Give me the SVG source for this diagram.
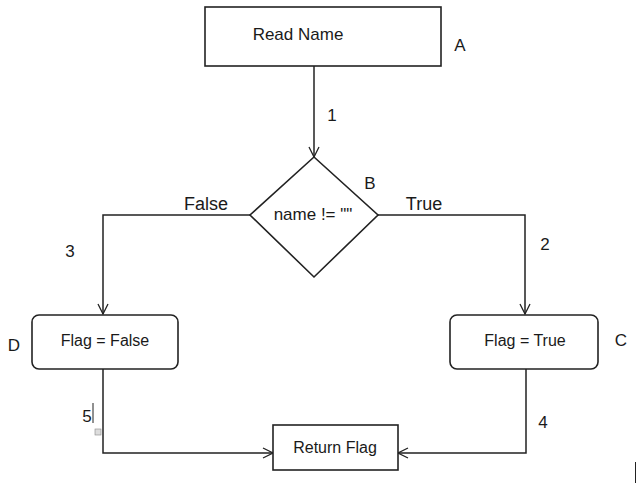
<svg xmlns="http://www.w3.org/2000/svg" width="638" height="483" viewBox="0 0 638 483">
<defs>
<marker id="arr" viewBox="0 0 12 12" refX="11" refY="6" markerWidth="12" markerHeight="12" markerUnits="userSpaceOnUse" orient="auto">
<path d="M1,1 L11,6 L1,11" fill="none" stroke="#222" stroke-width="1.3"/>
</marker>
<style>
.box{fill:#fff;stroke:#222;stroke-width:1.6}
.ln{fill:none;stroke:#222;stroke-width:1.5}
text{font-family:"Liberation Sans",Arial,sans-serif;font-size:16px;fill:#1a1a1a}
.c{text-anchor:middle}
text.lbl{font-size:17px}
text.big{font-size:18px}
text.t17{font-size:17px}
</style>
</defs>
<rect width="638" height="483" fill="#fff"/>
<g id="connectors">
<line class="ln" x1="314" y1="66" x2="314" y2="157" marker-end="url(#arr)"/>
<polyline class="ln" points="250,215 103,215 103,314" marker-end="url(#arr)"/>
<polyline class="ln" points="378,215 525,215 525,314" marker-end="url(#arr)"/>
<polyline class="ln" points="103,369 103,453 273,453" marker-end="url(#arr)"/>
<polyline class="ln" points="526,369 526,453 398,453" marker-end="url(#arr)"/>
<text x="332" y="121" class="c lbl">1</text>
<text x="70" y="257" class="c lbl">3</text>
<text x="545" y="250" class="c lbl">2</text>
<text x="87" y="422" class="c lbl">5</text>
<line x1="93" y1="403" x2="93" y2="423" stroke="#222" stroke-width="1"/>
<rect x="95" y="429" width="6" height="6" fill="#ddd" stroke="#888" stroke-width="0.6"/>
<text x="543" y="428" class="c lbl">4</text>
<text x="206" y="210" class="c big">False</text>
<text x="424" y="210" class="c big">True</text>
</g>
<g id="nodeA">
<rect class="box" x="205" y="7" width="236" height="59"/>
<text x="298" y="40" class="c t17">Read Name</text>
<text x="460" y="51" class="c lbl">A</text>
</g>
<g id="nodeB">
<polygon class="box" points="314,157 378,215 314,277 250,215"/>
<text x="313" y="220" class="c t17">name != ""</text>
<text x="370" y="189" class="c lbl">B</text>
</g>
<g id="nodeD">
<rect class="box" x="32" y="315" width="146" height="54" rx="7"/>
<text x="105" y="346" class="c">Flag = False</text>
<text x="14" y="351" class="c lbl">D</text>
</g>
<g id="nodeC">
<rect class="box" x="450" y="315" width="148" height="54" rx="7"/>
<text x="525" y="346" class="c">Flag = True</text>
<text x="621" y="346" class="c lbl">C</text>
</g>
<g id="nodeReturn">
<rect class="box" x="273" y="425" width="125" height="45"/>
<text x="335" y="453" class="c">Return Flag</text>
</g>
<line x1="635.5" y1="462" x2="635.5" y2="483" stroke="#222" stroke-width="1"/>
</svg>
